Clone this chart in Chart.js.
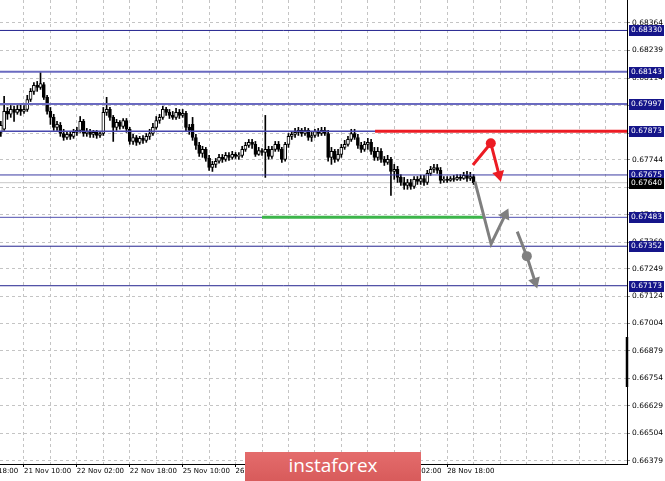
<!DOCTYPE html>
<html>
<head>
<meta charset="utf-8">
<script src="https://cdn.jsdelivr.net/npm/chart.js@4.4.1/dist/chart.umd.min.js"></script>
<style>
  html, body { margin: 0; padding: 0; background: #fff; overflow: hidden; }
  #wrap { position: relative; width: 665px; height: 481px; overflow: hidden; }
  #chart { position: absolute; left: -60px; top: 0; }
  #logo {
    position: absolute; left: 245px; top: 452px; width: 176px; height: 29px;
    background: linear-gradient(#e46c6c, #d85b5b); color: #fff;
    font: 19px "Open Sans", sans-serif; text-align: center; line-height: 27px;
  }
</style>
</head>
<body>
<div id="wrap">
  <canvas id="chart" width="725" height="481"></canvas>
  <div id="logo">instaforex</div>
</div>
<script>
// Bougies H1 (une par index, de gauche à droite)
const opens = [
  0.67868, 0.67882, 0.67963, 0.67950, 0.67972, 0.67959, 0.67972, 0.67963, 0.67972, 0.68017,
  0.68054, 0.68081, 0.68072, 0.68085, 0.68027, 0.67963, 0.67936, 0.67891, 0.67900, 0.67863,
  0.67845, 0.67859, 0.67850, 0.67868, 0.67877, 0.67918, 0.67863, 0.67872, 0.67859, 0.67868,
  0.67854, 0.67863, 0.67959, 0.67972, 0.67936, 0.67891, 0.67913, 0.67895, 0.67922, 0.67882,
  0.67827, 0.67845, 0.67823, 0.67841, 0.67832, 0.67850, 0.67863, 0.67891, 0.67922, 0.67936,
  0.67972, 0.67959, 0.67945, 0.67936, 0.67959, 0.67945, 0.67954, 0.67891, 0.67904, 0.67845,
  0.67809, 0.67773, 0.67791, 0.67750, 0.67709, 0.67723, 0.67737, 0.67755, 0.67746, 0.67764,
  0.67755, 0.67768, 0.67759, 0.67764, 0.67791, 0.67809, 0.67823, 0.67814, 0.67768, 0.67786,
  0.67777, 0.67791, 0.67759, 0.67791, 0.67814, 0.67791, 0.67746, 0.67814, 0.67850, 0.67859,
  0.67868, 0.67877, 0.67863, 0.67877, 0.67845, 0.67854, 0.67872, 0.67863, 0.67877, 0.67863,
  0.67755, 0.67782, 0.67746, 0.67768, 0.67800, 0.67814, 0.67836, 0.67863, 0.67845, 0.67809,
  0.67791, 0.67814, 0.67823, 0.67782, 0.67755, 0.67782, 0.67746, 0.67732, 0.67746, 0.67691,
  0.67700, 0.67664, 0.67641, 0.67628, 0.67641, 0.67623, 0.67655, 0.67646, 0.67659, 0.67641,
  0.67682, 0.67700, 0.67709, 0.67696, 0.67650, 0.67655, 0.67650, 0.67659, 0.67655, 0.67664,
  0.67659, 0.67673, 0.67659, 0.67668
];
const highs = [
  0.67918, 0.68031, 0.67981, 0.67990, 0.67986, 0.67990, 0.67995, 0.67990, 0.68036, 0.68067,
  0.68094, 0.68099, 0.68140, 0.68094, 0.68036, 0.67981, 0.67950, 0.67918, 0.67913, 0.67882,
  0.67868, 0.67872, 0.67882, 0.67891, 0.67940, 0.67927, 0.67886, 0.67882, 0.67877, 0.67877,
  0.67872, 0.67981, 0.68027, 0.67981, 0.67945, 0.67927, 0.67922, 0.67931, 0.67931, 0.67891,
  0.67859, 0.67854, 0.67850, 0.67854, 0.67863, 0.67882, 0.67909, 0.67940, 0.67950, 0.67986,
  0.67981, 0.67972, 0.67963, 0.67977, 0.67972, 0.67972, 0.67963, 0.67904, 0.67936, 0.67859,
  0.67823, 0.67805, 0.67800, 0.67764, 0.67737, 0.67750, 0.67768, 0.67768, 0.67777, 0.67777,
  0.67782, 0.67777, 0.67777, 0.67805, 0.67823, 0.67836, 0.67836, 0.67827, 0.67800, 0.67795,
  0.67945, 0.67805, 0.67805, 0.67827, 0.67827, 0.67800, 0.67823, 0.67863, 0.67872, 0.67886,
  0.67891, 0.67886, 0.67891, 0.67886, 0.67868, 0.67882, 0.67886, 0.67891, 0.67891, 0.67877,
  0.67800, 0.67791, 0.67791, 0.67814, 0.67832, 0.67850, 0.67882, 0.67882, 0.67859, 0.67823,
  0.67827, 0.67841, 0.67836, 0.67800, 0.67800, 0.67795, 0.67759, 0.67764, 0.67755, 0.67723,
  0.67714, 0.67677, 0.67664, 0.67655, 0.67655, 0.67668, 0.67668, 0.67673, 0.67673, 0.67696,
  0.67714, 0.67723, 0.67723, 0.67709, 0.67668, 0.67668, 0.67668, 0.67673, 0.67677, 0.67677,
  0.67687, 0.67691, 0.67687, 0.67677
];
const lows = [
  0.67850, 0.67877, 0.67927, 0.67936, 0.67918, 0.67950, 0.67945, 0.67954, 0.67963, 0.68008,
  0.68040, 0.68054, 0.68063, 0.68017, 0.67950, 0.67904, 0.67877, 0.67877, 0.67850, 0.67832,
  0.67836, 0.67836, 0.67841, 0.67854, 0.67868, 0.67850, 0.67850, 0.67845, 0.67845, 0.67841,
  0.67845, 0.67854, 0.67945, 0.67922, 0.67827, 0.67877, 0.67882, 0.67886, 0.67868, 0.67814,
  0.67814, 0.67809, 0.67814, 0.67818, 0.67823, 0.67836, 0.67854, 0.67882, 0.67909, 0.67927,
  0.67945, 0.67931, 0.67927, 0.67927, 0.67931, 0.67936, 0.67872, 0.67859, 0.67832, 0.67791,
  0.67759, 0.67755, 0.67737, 0.67696, 0.67691, 0.67709, 0.67728, 0.67732, 0.67737, 0.67741,
  0.67746, 0.67750, 0.67746, 0.67755, 0.67782, 0.67800, 0.67795, 0.67759, 0.67764, 0.67764,
  0.67664, 0.67746, 0.67750, 0.67782, 0.67782, 0.67732, 0.67737, 0.67800, 0.67836, 0.67845,
  0.67854, 0.67850, 0.67854, 0.67832, 0.67827, 0.67845, 0.67850, 0.67854, 0.67854, 0.67737,
  0.67723, 0.67732, 0.67737, 0.67755, 0.67791, 0.67805, 0.67827, 0.67836, 0.67795, 0.67777,
  0.67782, 0.67791, 0.67768, 0.67741, 0.67741, 0.67732, 0.67718, 0.67723, 0.67582, 0.67655,
  0.67641, 0.67628, 0.67610, 0.67610, 0.67610, 0.67614, 0.67632, 0.67632, 0.67628, 0.67632,
  0.67673, 0.67687, 0.67682, 0.67637, 0.67641, 0.67641, 0.67646, 0.67646, 0.67650, 0.67650,
  0.67655, 0.67646, 0.67650, 0.67632
];
const closes = [
  0.67900, 0.67963, 0.67950, 0.67972, 0.67959, 0.67972, 0.67963, 0.67972, 0.68017, 0.68054,
  0.68081, 0.68072, 0.68089, 0.68027, 0.67963, 0.67936, 0.67891, 0.67904, 0.67863, 0.67845,
  0.67859, 0.67850, 0.67868, 0.67877, 0.67918, 0.67863, 0.67872, 0.67859, 0.67868, 0.67854,
  0.67863, 0.67959, 0.67972, 0.67936, 0.67891, 0.67913, 0.67895, 0.67922, 0.67882, 0.67827,
  0.67845, 0.67823, 0.67841, 0.67832, 0.67850, 0.67863, 0.67891, 0.67922, 0.67936, 0.67972,
  0.67959, 0.67945, 0.67936, 0.67959, 0.67945, 0.67954, 0.67891, 0.67877, 0.67845, 0.67809,
  0.67773, 0.67791, 0.67750, 0.67709, 0.67723, 0.67737, 0.67755, 0.67746, 0.67764, 0.67755,
  0.67768, 0.67759, 0.67764, 0.67791, 0.67809, 0.67823, 0.67814, 0.67768, 0.67786, 0.67777,
  0.67791, 0.67759, 0.67791, 0.67814, 0.67791, 0.67746, 0.67814, 0.67850, 0.67859, 0.67868,
  0.67877, 0.67863, 0.67877, 0.67845, 0.67854, 0.67872, 0.67863, 0.67877, 0.67863, 0.67755,
  0.67782, 0.67746, 0.67768, 0.67800, 0.67814, 0.67836, 0.67863, 0.67845, 0.67809, 0.67791,
  0.67814, 0.67823, 0.67782, 0.67755, 0.67782, 0.67746, 0.67732, 0.67746, 0.67691, 0.67700,
  0.67664, 0.67641, 0.67628, 0.67641, 0.67623, 0.67655, 0.67646, 0.67659, 0.67641, 0.67682,
  0.67700, 0.67709, 0.67696, 0.67650, 0.67655, 0.67650, 0.67659, 0.67655, 0.67664, 0.67659,
  0.67673, 0.67659, 0.67668, 0.67640
];

// Axes
const yTicks = [0.68364, 0.68239, 0.68114, 0.67989, 0.67864, 0.67744, 0.67619, 0.67494, 0.67369,
                0.67249, 0.67124, 0.67004, 0.66879, 0.66754, 0.66629, 0.66504, 0.66379];
const gridBars = [-17, -9, -1, 7, 15, 23, 31, 39, 47, 55, 63, 71, 79, 87, 95, 103, 111, 119,
                  127, 135, 143, 151, 159, 167, 175, 183];
const labelBars = [-9, 7, 23, 39, 55, 71, 87, 103, 119, 135];
const labelTexts = ['20 Nov 18:00', '21 Nov 10:00', '22 Nov 02:00', '22 Nov 18:00', '25 Nov 10:00',
                    '26 Nov 02:00', '26 Nov 18:00', '27 Nov 10:00', '28 Nov 02:00', '28 Nov 18:00'];

// Niveaux et tracés
const levels = [0.68330, 0.68143, 0.67997, 0.67873, 0.67675, 0.67483, 0.67352, 0.67173];
const currentPrice = 0.67640;
const resistance = [[113.2, 0.67873], [189.4, 0.67873]];
const support = [[79.0, 0.67483], [146.2, 0.67483]];
const redArrow = [[142.8, 0.67720], [148.2, 0.67819], [150.7, 0.67675]];
const grayArrow1 = [[143.4, 0.67645], [148.3, 0.67362], [152.6, 0.67495]];
const grayArrow2 = [[156.2, 0.67418], [159.1, 0.67307], [161.6, 0.67191]];
const marker = [0.66941, 0.66714];

const xMin = -18.4, xMax = 189.4;
const yMin = 0.66365, yMax = 0.68468;

const FONT = '"DejaVu Sans", sans-serif';
const levelWidths = [1, 2, 2, 1.5, 1, 1, 1, 1];
const levelColors = ['#23238f', '#6a6ac0', '#6a6ac0', '#4747ad', '#3a3aa2', '#5050b0', '#23238f', '#23238f'];

const toXY = pts => pts.map(p => ({x: p[0], y: p[1]}));

// angle de la pointe de flèche (triangle) selon le dernier segment
function headAngle(c) {
    const d = c.dataset.data, i = c.dataIndex;
    if (i === 0) return 0;
    const sx = c.chart.scales.x, sy = c.chart.scales.y;
    const dx = sx.getPixelForValue(d[i].x) - sx.getPixelForValue(d[i - 1].x);
    const dy = sy.getPixelForValue(d[i].y) - sy.getPixelForValue(d[i - 1].y);
    return Math.atan2(dx, -dy) * 180 / Math.PI;
}

function arrow(pts, color, withDot) {
    return {
        type: 'line',
        data: toXY(pts),
        borderColor: color,
        borderWidth: 3,
        backgroundColor: color,
        pointBackgroundColor: color,
        pointBorderWidth: 0,
        pointStyle: ['circle', 'circle', 'triangle'],
        pointRadius: [0, withDot ? 5 : 0, 7],
        pointRotation: headAngle,
        tension: 0,
        order: -2
    };
}

const datasets = [];

// ligne du prix courant (grise, sous les bougies)
datasets.push({
    type: 'line', data: [{x: xMin, y: currentPrice}, {x: xMax, y: currentPrice}],
    borderColor: '#c8c8c8', borderWidth: 1, pointRadius: 0, order: 3
});

// mèches
datasets.push({
    type: 'bar',
    data: lows.map((l, i) => ({x: i, y: [l, highs[i]]})),
    backgroundColor: '#000', borderWidth: 0, barThickness: 1, grouped: false, order: 2
});

// corps
datasets.push({
    type: 'bar',
    data: opens.map((o, i) => ({x: i, y: [o, closes[i]]})),
    backgroundColor: opens.map((o, i) => closes[i] >= o ? '#fff' : '#000'),
    borderColor: '#000', borderWidth: 1, borderSkipped: false,
    barThickness: 3, grouped: false, order: 1
});

levels.forEach((v, k) => datasets.push({
    type: 'line', data: [{x: xMin, y: v}, {x: xMax, y: v}],
    borderColor: levelColors[k], borderWidth: levelWidths[k], pointRadius: 0, order: 0
}));

datasets.push({
    type: 'line', data: toXY(resistance), borderColor: '#ec1c24', borderWidth: 3, pointRadius: 0, order: -1
});
datasets.push({
    type: 'line', data: toXY(support), borderColor: '#3db54b', borderWidth: 3, pointRadius: 0, order: -1
});

datasets.push(arrow(redArrow, '#ec1c24', true));
datasets.push(arrow(grayArrow1, '#7f7f7f', false));
datasets.push(arrow(grayArrow2, '#7f7f7f', true));

// barre noire sur l'axe des prix
datasets.push({
    type: 'line', data: marker.map(v => ({x: xMax, y: v})),
    borderColor: '#000', borderWidth: 2.5, pointRadius: 0, clip: false, order: -3
});

// étiquettes des niveaux sur l'échelle de droite
const levelTags = {
    id: 'levelTags',
    afterDraw(chart) {
        const {ctx, chartArea, scales: {y}} = chart;
        ctx.save();
        ctx.font = '7.5px ' + FONT;
        ctx.textBaseline = 'middle';
        const tag = (v, bg) => {
            const py = Math.round(y.getPixelForValue(v));
            ctx.fillStyle = bg;
            ctx.fillRect(chartArea.right + 2, py - 5, 35, 11);
            ctx.fillStyle = '#fff';
            ctx.fillText(v.toFixed(5), chartArea.right + 4, py + 0.5);
        };
        levels.forEach(v => tag(v, '#15158a'));
        tag(currentPrice, '#000');
        ctx.restore();
    }
};

new Chart(document.getElementById('chart'), {
    type: 'bar',
    data: { datasets },
    options: {
        responsive: false,
        animation: false,
        layout: { padding: 0, autoPadding: false },
        plugins: { legend: { display: false }, tooltip: { enabled: false } },
        scales: {
            x: {
                type: 'linear', min: xMin, max: xMax, offset: false,
                afterBuildTicks: s => { s.ticks = gridBars.map(v => ({value: v})); },
                afterFit: s => { s.height = 17; s.paddingLeft = 0; s.paddingRight = 0; },
                ticks: {
                    autoSkip: false, maxRotation: 0, minRotation: 0, align: 'start', padding: 0,
                    color: '#000', font: { family: FONT, size: 7 },
                    callback: v => { const k = labelBars.indexOf(v); return k < 0 ? '' : labelTexts[k]; }
                },
                grid: {
                    offset: false, color: '#c4c4c4', lineWidth: 1, borderDash: [3, 3], tickLength: 3,
                    tickColor: c => (c.tick && labelBars.includes(c.tick.value)) ? '#000' : 'rgba(0,0,0,0)'
                },
                border: { color: '#000', width: 1, dash: [3, 3] }
            },
            y: {
                type: 'linear', position: 'right', min: yMin, max: yMax, beginAtZero: false,
                afterBuildTicks: s => { s.ticks = yTicks.map(v => ({value: v})); },
                afterFit: s => { s.width = 38; s.paddingTop = 0; s.paddingBottom = 0; },
                ticks: {
                    padding: 2, color: '#000', font: { family: FONT, size: 7.5 },
                    callback: v => v.toFixed(5)
                },
                grid: { color: '#c4c4c4', lineWidth: 1, borderDash: [3, 3], tickLength: 3, tickColor: '#888' },
                border: { color: '#000', width: 1, dash: [3, 3] }
            }
        }
    },
    plugins: [levelTags]
});
</script>
</body>
</html>
